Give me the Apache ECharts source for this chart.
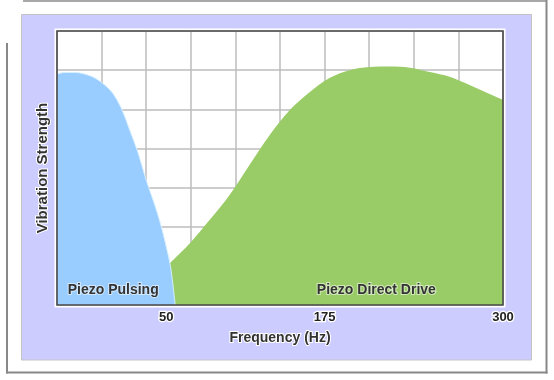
<!DOCTYPE html>
<html>
<head>
<meta charset="utf-8">
<script src="https://cdn.jsdelivr.net/npm/echarts@6/dist/echarts.min.js"></script>
<style>html,body{margin:0;padding:0;background:#fff}#c{width:554px;height:380px}</style>
</head>
<body>
<div id="c"></div>
<script>
// x positions are in grid-column units (axis is schematic, 10 columns), y in grid-row units (7 rows)
const pulsingX = [0, 0.17, 0.40, 0.62, 0.85, 1.07, 1.25, 1.44, 1.63, 1.82, 2.00, 2.17, 2.31, 2.45, 2.55, 2.65];
const pulsingY = [5.90, 5.94, 5.94, 5.90, 5.80, 5.62, 5.41, 5.03, 4.47, 3.88, 3.19, 2.63, 2.12, 1.49, 0.95, 0];
const driveX = [2.53, 2.98, 3.42, 3.87, 4.32, 4.77, 5.22, 5.67, 6.11, 6.56, 7.01, 7.46, 7.91, 8.36, 8.80, 9.25, 9.70, 10.0];
const driveY = [1.07, 1.58, 2.17, 2.81, 3.58, 4.34, 4.98, 5.44, 5.80, 6.00, 6.08, 6.09, 6.06, 5.95, 5.83, 5.62, 5.39, 5.24];
const tickPositions = [2.45, 6.0, 10.0];
const tickLabels = ['50', '175', '300'];
const seriesNames = ['Piezo Pulsing', 'Piezo Direct Drive'];
const labelPositions = [[1.26, 0.38], [7.16, 0.38]];

const FONT = 'Liberation Sans, Arial, sans-serif';
const zip = (xs, ys) => xs.map((x, i) => [x, ys[i]]);

const chart = echarts.init(document.getElementById('c'), null, {renderer: 'canvas'});
const labelStyle = {
  show: true, position: 'inside', formatter: '{b}',
  fontFamily: FONT, fontWeight: 'bold', fontSize: 14, color: '#333',
  textBorderColor: 'rgba(255,255,255,0.55)', textBorderWidth: 2
};
chart.setOption({
  animation: false,
  backgroundColor: '#fff',
  grid: {left: 57, top: 31, width: 446, height: 274, show: false},
  xAxis: {
    type: 'value', min: 0, max: 10, interval: 1,
    name: 'Frequency (Hz)', nameLocation: 'middle', nameGap: 24,
    nameTextStyle: {fontFamily: FONT, fontWeight: 'bold', fontSize: 14, color: '#333',
      textBorderColor: '#fff', textBorderWidth: 2},
    axisLine: {show: false}, axisTick: {show: false},
    axisLabel: {
      customValues: tickPositions,
      formatter: v => { const i = tickPositions.findIndex(p => Math.abs(p - v) < 1e-6); return i >= 0 ? tickLabels[i] : ''; },
      margin: 6, fontFamily: FONT, fontWeight: 'bold', fontSize: 13, color: '#222',
      textBorderColor: '#fff', textBorderWidth: 2.5
    },
    splitLine: {show: true, lineStyle: {color: '#bdbdbd', width: 1.5}}
  },
  yAxis: {
    type: 'value', min: 0, max: 7, interval: 1,
    name: 'Vibration Strength', nameLocation: 'middle', nameGap: 7, nameRotate: 90,
    nameTextStyle: {fontFamily: FONT, fontWeight: 'bold', fontSize: 15, color: '#333',
      textBorderColor: '#fff', textBorderWidth: 2},
    axisLine: {show: false}, axisTick: {show: false}, axisLabel: {show: false},
    splitLine: {show: true, lineStyle: {color: '#bdbdbd', width: 1.5}}
  },
  series: [
    {
      name: seriesNames[1], type: 'line', data: zip(driveX, driveY), smooth: 0.33,
      symbol: 'none', z: 2,
      lineStyle: {width: 0},
      areaStyle: {color: '#99cc66', opacity: 1},
      markPoint: {symbol: 'circle', symbolSize: 0, label: labelStyle,
        data: [{name: seriesNames[1], coord: labelPositions[1]}]}
    },
    {
      name: seriesNames[0], type: 'line', data: zip(pulsingX, pulsingY), smooth: 0.33,
      symbol: 'none', z: 3,
      lineStyle: {width: 1, color: '#d6efff'},
      areaStyle: {color: '#99ccff', opacity: 1},
      markPoint: {symbol: 'circle', symbolSize: 0, label: labelStyle,
        data: [{name: seriesNames[0], coord: labelPositions[0]}]}
    }
  ],
  graphic: [
    {type: 'rect', z: -3, silent: true, shape: {x: 21.5, y: 14.5, width: 510, height: 345.5},
      style: {fill: '#ccccff', stroke: '#c4c4c4', lineWidth: 1}},
    {type: 'rect', z: -2, silent: true, shape: {x: 54.5, y: 28.5, width: 451, height: 279},
      style: {fill: '#ffffff'}},
    {type: 'rect', z: 100, silent: true, shape: {x: 57, y: 31, width: 446, height: 274},
      style: {fill: null, stroke: '#4a4a4a', lineWidth: 1.6}},
    {type: 'line', z: 100, silent: true, shape: {x1: 23, y1: 1, x2: 547, y2: 1},
      style: {stroke: '#a8a8a8', lineWidth: 2}},
    {type: 'line', z: 100, silent: true, shape: {x1: 546.5, y1: 0, x2: 546.5, y2: 373.5},
      style: {stroke: '#888', lineWidth: 2}},
    {type: 'line', z: 100, silent: true, shape: {x1: 6, y1: 372.5, x2: 547.5, y2: 372.5},
      style: {stroke: '#888', lineWidth: 2}},
    {type: 'line', z: 100, silent: true, shape: {x1: 7, y1: 43, x2: 7, y2: 373.5},
      style: {stroke: '#888', lineWidth: 2}}
  ]
});
</script>
</body>
</html>
